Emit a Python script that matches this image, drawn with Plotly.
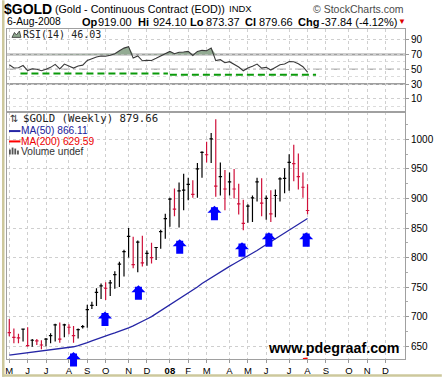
import pandas as pd
import plotly.graph_objects as go

# ---------------- data ----------------
week_dates = pd.date_range("2007-05-07", periods=66, freq="7D")

bar_high = [696, 680, 671, 680, 682, 662, 662, 660, 664, 672,
            688, 690, 688, 687, 684, 680, 686, 720, 725, 748,
            756, 758, 762, 777, 793, 813, 850, 835, 829, 837,
            812, 825, 818, 847, 874, 901, 917, 927, 942, 935,
            931, 960, 980, 996, 1011, 1034, 961, 948, 944, 950,
            925, 898, 890, 905, 935, 934, 905, 914, 915, 936,
            951, 975, 991, 976, 944, 924.10]
bar_low = [667, 655, 655, 658, 649, 649, 652, 645, 650, 655,
           658, 656, 665, 670, 656, 663, 680, 681, 713, 718,
           730, 728, 735, 747, 750, 768, 800, 782, 775, 785,
           786, 790, 796, 815, 832, 852, 870, 851, 880, 897,
           901, 901, 935, 961, 960, 903, 905, 880, 905, 900,
           873, 846, 859, 860, 895, 870, 864, 860, 868, 895,
           909, 913, 929, 915, 901, 873.37]
bar_close = [673, 665, 664, 679, 651, 660, 659, 652, 662, 668,
             686, 662, 686, 682, 668, 678, 683, 712, 719, 741,
             752, 748, 757, 771, 789, 810, 836, 788, 826, 791,
             807, 800, 817, 844, 866, 899, 882, 913, 914, 924,
             907, 950, 978, 974, 1001, 921, 937, 916, 928, 916,
             891, 858, 887, 901, 928, 892, 900, 874, 905, 933,
             934, 961, 959, 937, 919, 879.66]
prev_close_before_first = 683.0

ma50 = [635, 636, 637, 638, 639, 640, 641, 642, 643, 644,
        644.5, 645, 646, 647.5, 649, 651, 653, 656, 659, 662,
        665, 667.5, 670, 672.5, 675, 678, 681, 684.5, 688, 692,
        696, 700, 705, 710, 715, 720, 724.5, 729, 734, 739,
        744.5, 750, 756, 761, 766, 771, 776, 780.5, 785, 789.5,
        794, 798, 802, 807, 812, 817, 822, 827, 832, 837,
        842, 847, 852, 857, 862, 866.11]
ma200_dates = ["2008-07-28", "2008-08-04"]
ma200 = [628.6, 629.59]

rsi = [56, 51.6, 52, 55, 48, 50.5, 50, 48, 50, 52.5,
       56.5, 50.5, 57, 54.5, 51.5, 54.3, 55.5, 61.8, 64.5, 66.5,
       67.8, 67.5, 68.8, 71, 75, 78.5, 80.5, 65, 68, 61.4,
       62, 61.8, 64.7, 68, 71, 74, 71, 73, 73.2, 74,
       68.5, 74, 75.5, 75, 78.5, 61.6, 62.9, 58.7, 60.2, 57,
       53, 48, 51.6, 54, 57, 51.6, 52.7, 48.9, 52.3, 56,
       57, 60.5, 60, 57.4, 53.4, 46.03]

month_labels = ["M", "J", "J", "A", "S", "O", "N", "D", "<b>08</b>", "F",
                "M", "A", "M", "J", "J", "A", "S", "O", "N", "D"]

# hand-drawn support line on RSI and blue arrows on price
support_dates = ["2007-05-24", "2008-01-04", None, "2008-01-07", "2008-08-17"]
support_rsi = [44.2, 44.2, None, 42.5, 42.5]
arrow_dates = ["2007-08-13", "2007-09-30", "2007-11-20", "2008-01-22",
               "2008-03-15", "2008-04-26", "2008-06-06", "2008-08-02"]
arrow_tips = [640, 708.5, 753, 831, 887.5, 826, 843, 843]

# ---------------- geometry helpers ----------------
W, H = 442, 381
ML, MR, MT, MB = 5, 37, 29, 18
PW, PH = W - ML - MR, H - MT - MB


def px(x):
    return (x - ML) / PW


def py(y):
    return (H - MB - y) / PH


SANS = "Liberation Sans"
MONO = "DejaVu Sans Mono"

month_ticks = list(pd.date_range("2007-05-01", "2008-12-31", freq="WOM-1MON"))

prev = [prev_close_before_first] + bar_close[:-1]
up = [i for i in range(len(bar_close)) if bar_close[i] >= prev[i]]
dn = [i for i in range(len(bar_close)) if bar_close[i] < prev[i]]

fig = go.Figure()


def bars(idx, color):
    return go.Ohlc(
        x=[week_dates[i] for i in idx],
        open=[bar_close[i] for i in idx],
        high=[bar_high[i] for i in idx],
        low=[bar_low[i] for i in idx],
        close=[bar_close[i] for i in idx],
        increasing=dict(line=dict(color=color, width=1.2)),
        decreasing=dict(line=dict(color=color, width=1.2)),
        tickwidth=0.37, xaxis="x", yaxis="y", hoverinfo="skip",
    )


fig.add_trace(go.Scatter(x=week_dates, y=ma50, mode="lines",
                         line=dict(color="#2626a6", width=1.3), xaxis="x", yaxis="y"))
fig.add_trace(go.Scatter(x=ma200_dates, y=ma200, mode="lines",
                         line=dict(color="#ff0000", width=1.5), xaxis="x", yaxis="y"))
fig.add_trace(bars(up, "#000000"))
fig.add_trace(bars(dn, "#d0103a"))

# RSI panel
fig.add_trace(go.Scatter(x=week_dates, y=[70] * len(rsi), mode="lines",
                         line=dict(width=0), xaxis="x2", yaxis="y2"))
fig.add_trace(go.Scatter(x=week_dates, y=[max(v, 70) for v in rsi], mode="lines",
                         line=dict(width=0), fill="tonexty", fillcolor="#93ab93",
                         xaxis="x2", yaxis="y2"))
fig.add_trace(go.Scatter(x=support_dates, y=support_rsi, mode="lines",
                         line=dict(color="#0a9a0a", width=2, dash="7px,4px"),
                         xaxis="x2", yaxis="y2", connectgaps=False))
fig.add_trace(go.Scatter(x=week_dates, y=rsi, mode="lines",
                         line=dict(color="#3a3a3a", width=1.1), xaxis="x2", yaxis="y2"))

shapes = []
for lvl, dash, col, wd in [(70, "solid", "#a0a0a0", 2), (30, "solid", "#a0a0a0", 2),
                           (50, "dashdot", "#b4b4b4", 1.5)]:
    shapes.append(dict(type="line", xref="paper", yref="y2", x0=0, x1=1, y0=lvl, y1=lvl,
                       line=dict(color=col, width=wd, dash=dash), layer="below"))
# tan frame on left and bottom
shapes.append(dict(type="rect", xref="paper", yref="paper", x0=px(0), x1=px(2.5),
                   y0=py(H), y1=py(0), fillcolor="#cdc89c", line=dict(width=0)))
shapes.append(dict(type="rect", xref="paper", yref="paper", x0=px(0), x1=px(W),
                   y0=py(H), y1=py(378.5), fillcolor="#cdc89c", line=dict(width=0)))
# legend swatches
shapes.append(dict(type="line", xref="paper", yref="paper", x0=px(7), x1=px(18.5),
                   y0=py(132.3), y1=py(132.3), line=dict(color="#2626a6", width=2)))
shapes.append(dict(type="line", xref="paper", yref="paper", x0=px(7), x1=px(18.5),
                   y0=py(142.8), y1=py(142.8), line=dict(color="#ff0000", width=2)))
for x0, top in [(7, 151), (9.7, 149), (12.4, 150), (15.1, 152)]:
    shapes.append(dict(type="rect", xref="paper", yref="paper", x0=px(x0), x1=px(x0 + 1.8),
                       y0=py(156), y1=py(top), fillcolor="#555555", line=dict(width=0)))
# RSI icon
icon = [(10, 37.5), (12.5, 32.5), (14.5, 35), (17.5, 31), (19, 37.5)]
path = "M" + " L".join(f"{px(a):.5f},{py(b):.5f}" for a, b in icon) + " Z"
shapes.append(dict(type="path", xref="paper", yref="paper", path=path,
                   fillcolor="#8fa88f", line=dict(color="#333333", width=0.8)))


def txt(x, y, s, size, color="#000000", family=SANS, anchor="left"):
    return dict(xref="paper", yref="paper", x=px(x), y=py(y), text=s, showarrow=False,
                xanchor=anchor, yanchor="middle", borderpad=0,
                font=dict(size=size, color=color, family=family))


ann = [
    txt(1, 8.5, "<b>$GOLD</b>", 14),
    txt(52, 8.5, "(Gold - Continuous Contract (EOD))", 10.7),
    txt(227, 8.5, "INDX", 9.5),
    txt(405, 8.5, "© StockCharts.com", 10.5, color="#4a4a4a", anchor="right"),
    txt(4, 21.5, "6-Aug-2008", 10.3),
    txt(79, 21.5, "<b>Op</b>", 11), txt(95.5, 21.5, "919.00", 11),
    txt(135.5, 21.5, "<b>Hi</b>", 11), txt(150.5, 21.5, "924.10", 11),
    txt(187.5, 21.5, "<b>Lo</b>", 11), txt(204, 21.5, "873.37", 11),
    txt(243.5, 21.5, "<b>Cl</b>", 11), txt(257, 21.5, "879.66", 11),
    txt(296.5, 21.5, "<b>Chg</b>", 11), txt(319.5, 21.5, "-37.84 (-4.12%)", 11),
    txt(402, 21.5, "▼", 8, color="#dd0000", anchor="center"),
    txt(20, 34.5, "RSI(14) 46.03", 10, color="#222222", family=MONO),
    txt(12.5, 120, "⇅", 10, color="#333333", family="DejaVu Sans", anchor="center"),
    txt(20, 120, "$GOLD (Weekly) 879.66", 10.7, color="#222222", family=MONO),
    txt(18.5, 132.2, "MA(50) 866.11", 10.2, color="#22229c"),
    txt(18.5, 142.8, "MA(200) 629.59", 10.2, color="#ee0000"),
    txt(18.5, 153.3, "Volume undef", 10.2, color="#333333"),
    txt(266, 351.5, "<b>www.pdegraaf.com</b>", 14.3),
]
for d, p in zip(arrow_dates, arrow_tips):
    ann.append(dict(xref="x", yref="y", x=d, y=p, ax=0, ay=15, text="", showarrow=True,
                    arrowhead=1, arrowwidth=7, arrowsize=0.333, arrowcolor="#0000ff",
                    standoff=0, font=dict(size=1), borderpad=0))

grid = dict(showgrid=True, gridcolor="#cfcfcf", griddash="dot", gridwidth=1)
frame = dict(showline=True, mirror=True, linecolor="#a0a0a0", linewidth=1, zeroline=False)
xrange = ["2007-05-03 12:00", "2008-12-30 17:00"]

fig.update_layout(
    width=W, height=H, margin=dict(l=ML, r=MR, t=MT, b=MB, pad=0),
    paper_bgcolor="white", plot_bgcolor="white", showlegend=False,
    font=dict(family=SANS, size=10, color="#000000"),
    shapes=shapes, annotations=ann,
    xaxis=dict(domain=[0, 1], anchor="y", type="date", range=xrange,
               tickvals=month_ticks, ticktext=month_labels, ticks="outside", ticklen=3,
               tickcolor="#999999", tickfont=dict(size=9.5, family=SANS),
               rangeslider=dict(visible=False), **grid, **frame),
    yaxis=dict(domain=[0, 249.5 / PH], anchor="x", side="right", range=[628.3, 1045.5],
               tick0=0, dtick=50, ticks="outside", ticklen=3, tickcolor="#999999",
               tickfont=dict(size=10), minor=dict(dtick=25, ticks="outside", ticklen=2,
                                                  tickcolor="#aaaaaa", showgrid=False),
               **grid, **frame),
    xaxis2=dict(domain=[0, 1], anchor="y2", type="date", matches="x", range=xrange,
                tickvals=month_ticks, showticklabels=False, ticks="", **grid, **frame),
    yaxis2=dict(domain=[249.5 / PH, 1], anchor="x2", side="right", range=[-8.4, 104.3],
                tickvals=[10, 30, 50, 70, 90], ticks="outside", ticklen=3,
                tickcolor="#999999", tickfont=dict(size=10),
                minor=dict(tickvals=[0, 40, 60], ticks="", showgrid=True,
                           gridcolor="#dcdcdc", griddash="dot"),
                **grid, **frame),
)

fig.write_html("out.html",
               config={"displayModeBar": False},
               post_script="document.body.style.margin='0';"
                           "document.body.style.overflow='hidden';")
